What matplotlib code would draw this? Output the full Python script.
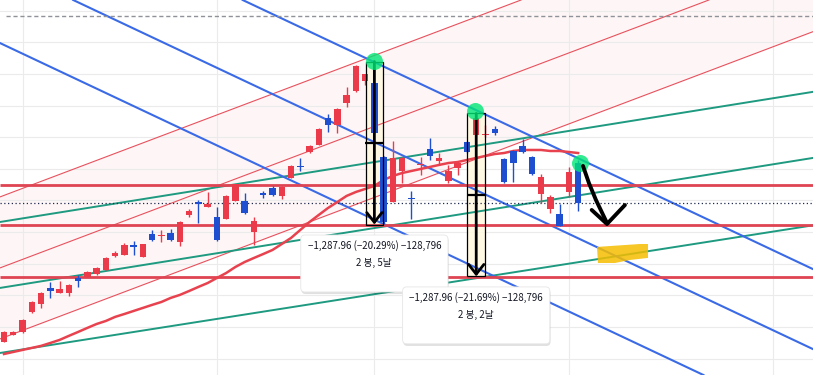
import numpy as np
import matplotlib.pyplot as plt
import matplotlib.patheffects as pe
from matplotlib.patches import FancyBboxPatch, Polygon, Rectangle

# 캔들 데이터 (봉 번호 0..62)
opens = [4132, 4188, 4211, 4369, 4432, 4559, 4519, 4519, 4638, 4646,
         4669, 4701, 4812, 4820, 4899, 4804, 4985, 4966, 4993, 4922,
         5136, 5238, 5199, 5120, 5104, 5246, 5246, 5001, 5305, 5349,
         5286, 5428, 5519, 5633, 5689, 5902, 5847, 6020, 6115, 6194,
         6178, 5594, 5238, 5483, 5266, 5527, 5657, 5562, 5404, 5507,
         5712, 5768, 5764, 5815, 5578, 5641, 5681, 5594, 5301, 5183,
         5143, 5317, 5546]
highs = [4215, 4220, 4310, 4452, 4523, 4606, 4614, 4587, 4662, 4689,
         4721, 4800, 4851, 4914, 4930, 4910, 5017, 5017, 5025, 5084,
         5183, 5254, 5317, 5199, 5290, 5384, 5309, 5120, 5325, 5365,
         5361, 5527, 5586, 5685, 5819, 5933, 5977, 6147, 6317, 6253,
         6348, 5600, 5720, 5590, 5325, 5594, 5744, 5625, 5531, 5554,
         5716, 5938, 5847, 5839, 5582, 5645, 5736, 5598, 5459, 5294,
         5222, 5515, 5570]
lows = [4128, 4184, 4206, 4364, 4401, 4480, 4515, 4496, 4567, 4642,
        4665, 4697, 4804, 4816, 4820, 4800, 4930, 4922, 4930, 4891,
        5120, 5072, 5195, 4930, 5100, 5242, 5147, 4899, 5270, 5286,
        5262, 5424, 5483, 5629, 5685, 5791, 5783, 5989, 6111, 6163,
        5775, 5062, 5234, 5388, 5104, 5452, 5570, 5531, 5388, 5452,
        5629, 5764, 5752, 5768, 5392, 5396, 5629, 5455, 5230, 5151,
        5045, 5278, 5167]
closes = [4211, 4211, 4306, 4448, 4519, 4535, 4551, 4583, 4614, 4685,
          4717, 4796, 4835, 4899, 4883, 4906, 4938, 4974, 4938, 5080,
          5167, 5222, 5222, 4938, 5286, 5380, 5151, 5088, 5297, 5294,
          5357, 5523, 5511, 5681, 5815, 5847, 5973, 6084, 6313, 6249,
          5783, 5080, 5586, 5586, 5258, 5535, 5602, 5586, 5483, 5546,
          5633, 5902, 5772, 5783, 5396, 5546, 5633, 5459, 5436, 5278,
          5049, 5475, 5230]

# 이동평균선
ma_values = [4037, 4053, 4069, 4085, 4101, 4124, 4148, 4180, 4211, 4243,
             4274, 4298, 4330, 4353, 4377, 4401, 4425, 4448, 4480, 4504,
             4535, 4567, 4598, 4638, 4677, 4725, 4764, 4796, 4827, 4859,
             4906, 4954, 5017, 5080, 5136, 5191, 5238, 5286, 5317, 5341,
             5365, 5412, 5444, 5467, 5483, 5499, 5515, 5531, 5546, 5554,
             5570, 5586, 5602, 5617, 5625, 5641, 5649, 5649, 5649, 5641,
             5641, 5633, 5625]

# 수평선
level_prices = [5373, 5058, 4648]
last_price = 5230
dashed_price = 6708

# 추세선 (봉, 가격) 두 점
blue_lines = [((0, 6479), (80, 3717)), ((0, 7092), (80, 4330)), ((0, 7724), (80, 4962))]
green_lines = [((0, 5085), (80, 6022)), ((0, 4564), (80, 5500)), ((0, 4050), (80, 4969))]
channel_lines = [((0, 5290), (80, 7502)), ((0, 4729), (80, 6941)), ((0, 4168), (80, 6380))]

# 가격 범위 측정
measure_bars = [40.0, 51.0]
measure_tops = [6348, 5938]
measure_change = -1287.96
measure_texts = [("−1,287.96 (−20.29%) −128,796", "2 봉, 5날"),
                 ("−1,287.96 (−21.69%) −128,796", "2 봉, 2날")]

# 손그림 표시
peak_mark_x = [40.0, 50.9, 62.2]
peak_mark_y = [6352, 5957, 5546]
hand_arrow_x = [62.53, 63.17, 63.93, 65.12]
hand_arrow_y = [5523, 5388, 5254, 5072]
hand_head_x = [63.47, 65.12, 67.06]
hand_head_y = [5175, 5064, 5214]
yellow_x = [64.04, 68.68, 69.55, 69.55, 67.6, 65.98, 64.15]
yellow_y = [4883, 4906, 4906, 4796, 4780, 4756, 4756]

price_grid = list(range(4000, 6751, 250))
time_grid = [2, 23, 40, 61, 83]

XLIM = (-0.43, 87.37)
YLIM = (3871, 6834)

UP = '#eb3a4a'
DOWN = '#1f4fd1'


def line_at(pts, x):
    (x1, y1), (x2, y2) = pts
    return y1 + (y2 - y1) * (x - x1) / (x2 - x1)


fig = plt.figure(figsize=(8.13, 3.75), dpi=100)
ax = fig.add_axes([0, 0, 1, 1])
ax.set_xlim(*XLIM)
ax.set_ylim(*YLIM)
for s in ax.spines.values():
    s.set_visible(False)
ax.set_xticks(time_grid)
ax.set_yticks(price_grid)
ax.tick_params(length=0, labelleft=False, labelbottom=False)
ax.set_axisbelow(True)
ax.grid(True, color='#ebebeb', lw=0.8)

# 채널 배경
xs = np.array(XLIM)
ax.fill_between(xs, line_at(channel_lines[2], xs), line_at(channel_lines[0], xs),
                color='#f23645', alpha=0.045, lw=0, zorder=0.2)
for pts in channel_lines:
    ax.axline(*pts, color='#e8515d', lw=0.8, zorder=1)
for pts in green_lines:
    ax.axline(*pts, color='#1e9a80', lw=1.4, zorder=1.2)
for pts in blue_lines:
    ax.axline(*pts, color='#3a6ae6', lw=1.5, zorder=1.3)

ax.hlines(level_prices, *XLIM, color='#de4452', lw=2.0, zorder=1.4)
ax.axhline(last_price, color='#1f2a50', lw=0.9, ls=(0, (1, 2)), zorder=1.5)
ax.hlines(dashed_price, 0.2, XLIM[1], color='#8f9299', lw=1.0, ls=(0, (3, 2)), zorder=1.5)

# 이동평균
bars = np.arange(len(opens))
ax.plot(bars, ma_values, color='#e8424f', lw=1.8, zorder=2)

# 캔들
o = np.array(opens)
c = np.array(closes)
cols = [UP if cc >= oo else DOWN for oo, cc in zip(o, c)]
ax.vlines(bars, lows, highs, colors=cols, lw=1.0, zorder=3)
body = np.maximum(np.abs(c - o), 10)
ax.bar(bars, body, bottom=np.minimum(o, c), width=0.7, color=cols, lw=0, zorder=3.1)

# 측정 도구
half_w = 0.95
for xm, top, (t1, t2) in zip(measure_bars, measure_tops, measure_texts):
    bottom = top + measure_change
    ax.add_patch(Rectangle((xm - half_w, bottom), 2 * half_w, top - bottom,
                           fc='#fff9df', alpha=0.85, ec='none', zorder=0.8))
    ax.add_patch(Rectangle((xm - half_w, bottom), 2 * half_w, top - bottom,
                           fc='none', ec='black', lw=0.9, zorder=4))
    ax.annotate('', xy=(xm, bottom), xytext=(xm, top),
                arrowprops=dict(arrowstyle='->,head_length=0.7,head_width=0.55',
                                lw=2.0, color='black', shrinkA=0, shrinkB=0,
                                mutation_scale=10), zorder=4)
    ax.hlines((top + bottom) / 2, xm - half_w - 0.1, xm + half_w, color='black', lw=1.6, zorder=4)

    # 라벨
    bw, bh, gap = 15.9, 450, 83
    btop = bottom - gap
    box = FancyBboxPatch((xm - bw / 2, btop - bh), bw, bh,
                         boxstyle='round,pad=0,rounding_size=0.45', mutation_aspect=73,
                         fc='white', ec='#e6e6e6', lw=0.6, zorder=5)
    box.set_path_effects([pe.SimplePatchShadow(offset=(0.5, -1.5), shadow_rgbFace='black', alpha=0.12),
                          pe.Normal()])
    ax.add_patch(box)
    ax.text(xm, btop - 87, t1, ha='center', va='center', fontsize=7.0, color='#131722',
            family=['Noto Sans CJK KR', 'DejaVu Sans'], zorder=5.1)
    ax.text(xm, btop - 221, t2, ha='center', va='center', fontsize=7.0, color='#131722',
            family=['Noto Sans CJK KR', 'DejaVu Sans'], zorder=5.1)

# 형광펜/손그림
ax.scatter(peak_mark_x, peak_mark_y, s=150, color='#00e676', alpha=0.8, lw=0, zorder=6)
ax.plot(hand_arrow_x, hand_arrow_y, color='black', lw=2.8, solid_capstyle='round',
        solid_joinstyle='round', zorder=7)
ax.plot(hand_head_x, hand_head_y, color='black', lw=2.8, solid_capstyle='round',
        solid_joinstyle='round', zorder=7)
ax.add_patch(Polygon(np.column_stack([yellow_x, yellow_y]), closed=True,
                     fc='#f5bd00', alpha=0.85, ec='none', zorder=8))

fig.savefig('out.png', dpi=100)
